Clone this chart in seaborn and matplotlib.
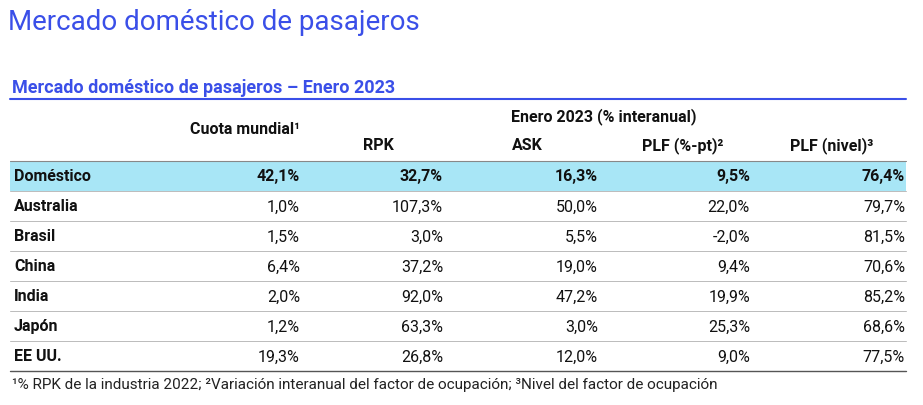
import matplotlib.pyplot as plt
import seaborn as sns
import pandas as pd

titulo = "Mercado doméstico de pasajeros"
subtitulo = "Mercado doméstico de pasajeros – Enero 2023"
regiones = ["Doméstico", "Australia", "Brasil", "China", "India", "Japón", "EE UU."]
cuota = ["42,1%", "1,0%", "1,5%", "6,4%", "2,0%", "1,2%", "19,3%"]
rpk = ["32,7%", "107,3%", "3,0%", "37,2%", "92,0%", "63,3%", "26,8%"]
ask = ["16,3%", "50,0%", "5,5%", "19,0%", "47,2%", "3,0%", "12,0%"]
plf_pt = ["9,5%", "22,0%", "-2,0%", "9,4%", "19,9%", "25,3%", "9,0%"]
plf_nivel = ["76,4%", "79,7%", "81,5%", "70,6%", "85,2%", "68,6%", "77,5%"]
columnas = ["Cuota mundial¹", "RPK", "ASK", "PLF (%-pt)²", "PLF (nivel)³"]
nota = "¹% RPK de la industria 2022; ²Variación interanual del factor de ocupación; ³Nivel del factor de ocupación"

df = pd.DataFrame({"region": regiones, columnas[0]: cuota, columnas[1]: rpk,
                   columnas[2]: ask, columnas[3]: plf_pt, columnas[4]: plf_nivel})

sns.set_theme(style="white")
plt.rcParams['font.family'] = ['Roboto', 'DejaVu Sans']
azul = "#3A4FE8"

fig = plt.figure(figsize=(9.23, 4.06), dpi=100)
ax = fig.add_axes([0, 0, 1, 1])
ax.set_xlim(0, 923)
ax.set_ylim(406, 0)
ax.axis("off")

ax.text(8, 22, titulo, color=azul, fontsize=20, va="center", ha="left")
ax.text(12, 88, subtitulo, color=azul, fontsize=13, fontweight="bold", va="center")
ax.plot([10, 906], [100, 100], color=azul, lw=1.5)

ax.text(604, 117, "Enero 2023 (% interanual)", fontsize=11.5, fontweight="bold", ha="center", va="center", color="#111")
xr = [300, 443, 598, 750, 905]
for i, c in enumerate(columnas):
    y = 130 if i == 0 else 146
    ha = "right" if i == 0 else "center"
    x = xr[0] if i == 0 else [378, 527, 683, 832][i - 1]
    ax.text(x, y, c, fontsize=11.5, fontweight="bold", ha=ha, va="center", color="#111")

y0, h = 162, 30
ax.add_patch(plt.Rectangle((10, y0), 896, h, color="#A8E6F6", lw=0))
for r, row in df.iterrows():
    yc = y0 + h * r + h / 2
    ax.text(14, yc, row["region"], fontsize=11.5, fontweight="bold", va="center", color="#111")
    for j, c in enumerate(columnas):
        ax.text(xr[j], yc, row[c], fontsize=11.5, va="center", ha="right", color="#111",
                fontweight="bold" if r == 0 else "normal")
    ax.plot([10, 906], [y0 + h * (r + 1)] * 2, color="#bbbbbb", lw=0.7)
ax.plot([10, 906], [y0, y0], color="#888888", lw=0.8)
ax.plot([10, 906], [y0 + h * len(df)] * 2, color="#555555", lw=1.0)

ax.text(12, 385, nota, fontsize=11, va="center", color="#222")
fig.savefig("out.png", dpi=100)
